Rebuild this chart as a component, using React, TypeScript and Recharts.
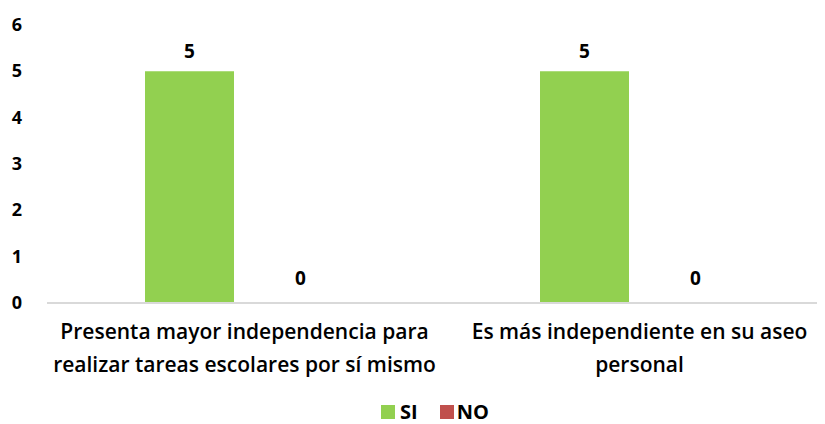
import React from "react";
import { BarChart, Bar, XAxis, YAxis, Legend, LabelList } from "recharts";

const categories = [
  "Presenta mayor independencia para realizar tareas escolares por sí mismo",
  "Es más independiente en su aseo personal",
];
const categoryLines = [
  ["Presenta mayor independencia para", "realizar tareas escolares por sí mismo"],
  ["Es más independiente en su aseo", "personal"],
];
const siValues = [5, 5];
const noValues = [0, 0];
const yTicks = [0, 1, 2, 3, 4, 5, 6];

const data = categories.map((c, i) => ({ name: c, SI: siValues[i], NO: noValues[i] }));

const FONT = "'Open Sans', sans-serif";
const GREEN = "#92D050";
const RED = "#C0504D";

const XTick = (props: any) => {
  const { x, y, index } = props;
  const lines = categoryLines[index] || [];
  return (
    <g>
      {lines.map((l: string, i: number) => (
        <text key={i} x={x} y={y + 28 + i * 33} textAnchor="middle" fontFamily={FONT} fontWeight={600} fontSize={21} fill="#000">
          {l}
        </text>
      ))}
    </g>
  );
};

const YTick = (props: any) => {
  const { y, payload } = props;
  return (
    <text x={9} y={y + 6} textAnchor="middle" fontFamily={FONT} fontWeight={700} fontSize={18} fill="#000">
      {payload.value}
    </text>
  );
};

const LegendContent = () => (
  <div style={{ display: "flex", alignItems: "center", fontFamily: FONT, fontWeight: 700, fontSize: 20, color: "#000", paddingLeft: 373, paddingTop: 16, height: 16, lineHeight: "16px" }}>
    <span style={{ width: 14, height: 14, background: GREEN, display: "inline-block", marginRight: 5 }} />
    <span style={{ marginRight: 22 }}>SI</span>
    <span style={{ width: 14, height: 14, background: RED, display: "inline-block", marginRight: 3 }} />
    <span>NO</span>
  </div>
);

export default function App() {
  return (
    <div style={{ width: 817, height: 416, overflow: "hidden" }}>
      <BarChart width={840} height={416} data={data} margin={{ top: 17, right: 11, left: 0, bottom: 0 }} barGap={22} barSize={89}>
        <XAxis dataKey="name" axisLine={{ stroke: "#D9D9D9", strokeWidth: 2 }} tickLine={false} tick={<XTick />} interval={0} height={85} />
        <YAxis width={39} domain={[0, 6]} ticks={yTicks} axisLine={false} tickLine={false} tick={<YTick />} />
        <Legend verticalAlign="bottom" height={36} wrapperStyle={{ bottom: 0 }} content={<LegendContent />} />
        <Bar dataKey="SI" fill={GREEN} isAnimationActive={false}>
          <LabelList dataKey="SI" position="top" offset={13} fontFamily={FONT} fontWeight={700} fontSize={19} fill="#000" />
        </Bar>
        <Bar dataKey="NO" fill={RED} isAnimationActive={false} minPointSize={0.01}>
          <LabelList dataKey="NO" position="top" offset={18} fontFamily={FONT} fontWeight={700} fontSize={19} fill="#000" />
        </Bar>
      </BarChart>
    </div>
  );
}
